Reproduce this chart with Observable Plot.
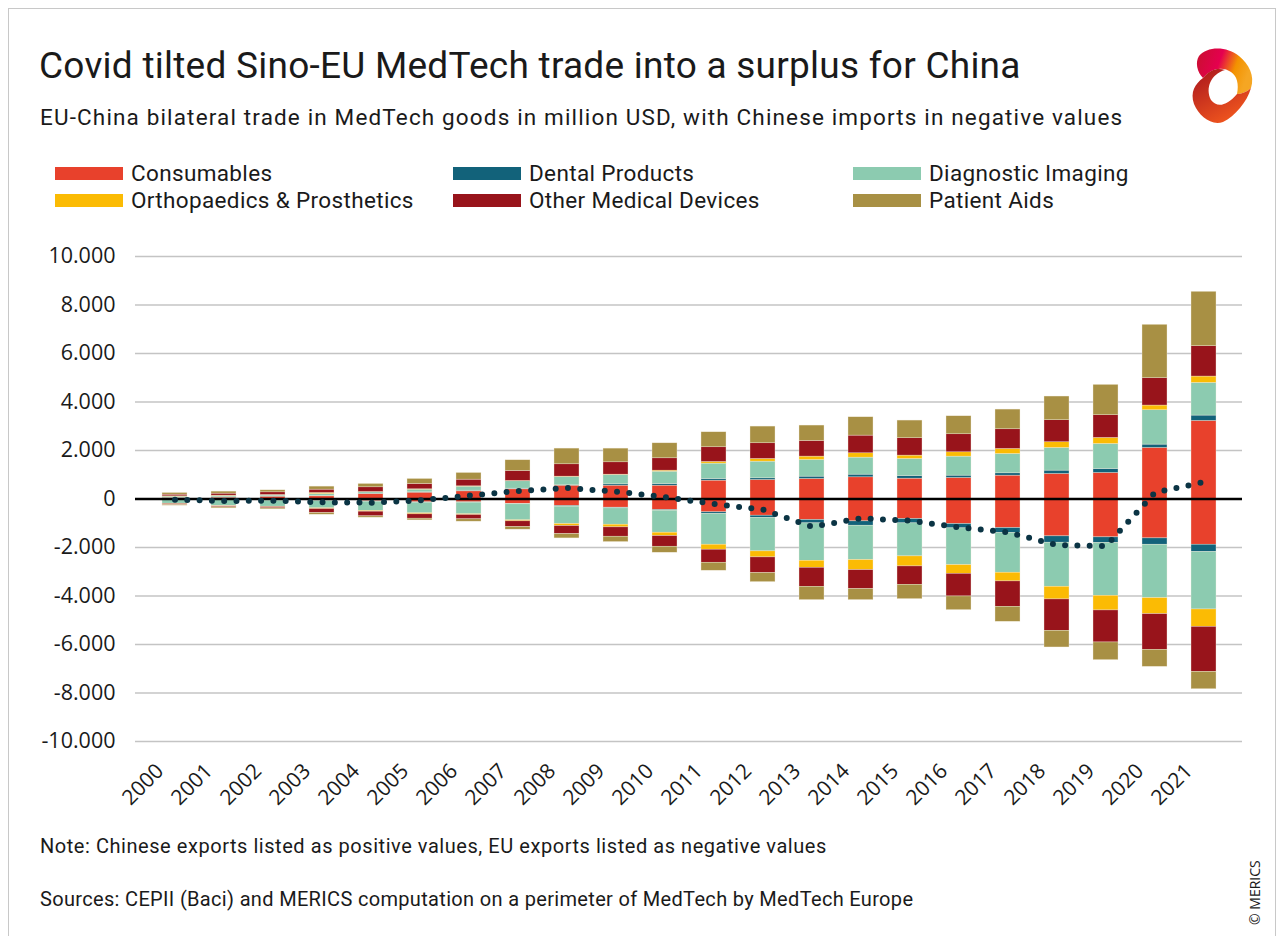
<!DOCTYPE html>
<html>
<head>
<meta charset="utf-8">
<script src="https://cdn.jsdelivr.net/npm/d3@7"></script>
<script src="https://cdn.jsdelivr.net/npm/@observablehq/plot@0.6"></script>
<style>
  html, body { margin: 0; padding: 0; background: #fff; }
  body { width: 1285px; height: 936px; position: relative; overflow: hidden; font-family: Roboto, "Open Sans", sans-serif; color: #1a1a1a; }
  .frame { position: absolute; left: 8px; top: 8px; width: 1268px; height: 960px; border: 1px solid #c8c8c8; box-sizing: border-box; }
  .title { position: absolute; left: 39px; top: 42px; font-size: 37px; letter-spacing: 0.25px; line-height: 48px; white-space: nowrap; }
  .subtitle { position: absolute; left: 40px; top: 102px; font-size: 22.5px; letter-spacing: 1.15px; line-height: 30px; white-space: nowrap; }
  .legend { position: absolute; left: 55px; top: 160px; }
  .legend .item { position: absolute; display: flex; align-items: center; white-space: nowrap; font-size: 22.5px; letter-spacing: 0.35px; line-height: 26px; }
  .legend .sw { width: 68px; height: 13px; margin-right: 8px; }
  #chart { position: absolute; left: 0; top: 230px; }
  .note { position: absolute; left: 40px; font-size: 20px; line-height: 24px; white-space: nowrap; }
  .copy { position: absolute; left: 1245px; top: 925px; transform: rotate(-90deg); transform-origin: 0 0; font-family: "Open Sans", sans-serif; font-size: 14px; white-space: nowrap; }
  .logo { position: absolute; left: 1185px; top: 44px; }
</style>
</head>
<body>
<div class="frame"></div>
<div class="title">Covid tilted Sino-EU MedTech trade into a surplus for China</div>
<div class="subtitle">EU-China bilateral trade in MedTech goods in million USD, with Chinese imports in negative values</div>
<svg class="logo" width="72" height="82" viewBox="0 0 72 82">
  <defs>
    <linearGradient id="lg1" x1="0" y1="0" x2="1" y2="0.3">
      <stop offset="0" stop-color="#c8102e"/>
      <stop offset="0.45" stop-color="#e5004f"/>
      <stop offset="0.75" stop-color="#f39200"/>
      <stop offset="1" stop-color="#f5a623"/>
    </linearGradient>
    <linearGradient id="lg2" x1="0" y1="0" x2="0.6" y2="1">
      <stop offset="0" stop-color="#a8141e"/>
      <stop offset="1" stop-color="#f0561e"/>
    </linearGradient>
  </defs>
  <path fill="url(#lg1)" d="M14 12 C22 2 42 2 54 12 C64 20 70 32 66 44 C62 48 56 50 52 50 C54 40 52 32 46 28 C38 22 26 24 18 34 C12 28 10 18 14 12 Z"/>
  <path fill="url(#lg2)" d="M18 34 C26 24 34 24 40 26 C26 30 20 44 26 56 C32 64 42 62 52 50 C56 50 62 48 66 44 C62 58 50 72 38 78 C26 82 14 72 9 60 C5 48 10 40 18 34 Z"/>
</svg>
<div class="legend" id="legend"></div>
<div id="chart"></div>
<div class="note" style="top:834px; letter-spacing:0.55px">Note: Chinese exports listed as positive values, EU exports listed as negative values</div>
<div class="note" style="top:887px; letter-spacing:0.33px">Sources: CEPII (Baci) and MERICS computation on a perimeter of MedTech by MedTech Europe</div>
<div class="copy">© MERICS</div>
<script>
// ---- Data (million USD) ----
const years = ["2000","2001","2002","2003","2004","2005","2006","2007","2008","2009","2010","2011","2012","2013","2014","2015","2016","2017","2018","2019","2020","2021"];
const categories = ["Consumables","Dental Products","Diagnostic Imaging","Orthopaedics & Prosthetics","Other Medical Devices","Patient Aids"];
const colors = ["#e8412c","#12627a","#8ccbb0","#fbbb04","#98141b","#a89044"];

// Chinese exports to EU (positive)
const consumablesCN = [41,55,96,110,206,262,316,399,550,550,550,757,784,826,894,839,867,963,1032,1073,2105,3220];
const dentalCN      = [14,14,14,14,14,14,28,28,14,55,69,69,69,96,110,110,96,96,138,165,138,220];
const diagnosticCN  = [41,55,41,83,55,110,165,303,344,385,509,633,688,688,702,702,784,798,936,1032,1417,1348];
const orthoCN       = [14,14,14,41,14,14,14,14,14,14,41,69,110,138,179,138,179,206,234,248,193,261];
const otherCN       = [69,83,110,138,193,220,275,413,509,509,509,605,647,647,729,716,743,812,908,936,1128,1252];
const patientCN     = [69,83,83,124,138,206,275,440,647,564,619,619,688,633,757,729,743,812,977,1252,2202,2243];

// EU exports to China (Chinese imports, negative)
const consumablesEU = [-14,-28,-55,-69,-96,-138,-138,-206,-289,-358,-454,-550,-688,-867,-922,-826,-1032,-1197,-1541,-1582,-1624,-1885];
const dentalEU      = [-14,-14,-14,-14,-14,-14,-14,-14,-28,-28,-28,-69,-96,-138,-179,-179,-179,-206,-261,-234,-261,-303];
const diagnosticEU  = [-165,-248,-248,-303,-385,-440,-480,-660,-716,-674,-908,-1266,-1376,-1541,-1417,-1362,-1514,-1637,-1816,-2174,-2202,-2367];
const orthoEU       = [-14,-14,-14,-28,-28,-41,-28,-41,-83,-110,-138,-206,-248,-289,-413,-413,-358,-358,-523,-605,-660,-716];
const otherEU       = [-41,-41,-55,-165,-193,-179,-179,-234,-330,-385,-440,-537,-647,-784,-784,-757,-936,-1046,-1293,-1321,-1472,-1858];
const patientEU     = [-28,-41,-41,-69,-55,-69,-96,-110,-179,-220,-248,-330,-372,-550,-454,-592,-564,-619,-688,-729,-702,-716];

const yTicks = [-10000,-8000,-6000,-4000,-2000,0,2000,4000,6000,8000,10000];
const yTickLabels = ["-10.000","-8.000","-6.000","-4.000","-2.000","0","2.000","4.000","6.000","8.000","10.000"];

// ---- Build tables ----
const seriesCN = [consumablesCN, dentalCN, diagnosticCN, orthoCN, otherCN, patientCN];
const seriesEU = [consumablesEU, dentalEU, diagnosticEU, orthoEU, otherEU, patientEU];
const rows = [];
categories.forEach((c, k) => {
  years.forEach((y, i) => {
    rows.push({year: y, category: c, value: seriesCN[k][i]});
    rows.push({year: y, category: c, value: seriesEU[k][i]});
  });
});
const balance = years.map((y, i) => ({
  year: y,
  net: d3.sum(seriesCN, s => s[i]) + d3.sum(seriesEU, s => s[i])
}));

// ---- Legend ----
const legend = document.getElementById("legend");
const colX = [0, 398, 798];
categories.forEach((c, k) => {
  const it = document.createElement("div");
  it.className = "item";
  it.style.left = colX[k % 3] + "px";
  it.style.top = (Math.floor(k / 3) * 27) + "px";
  it.innerHTML = `<span class="sw" style="background:${colors[k]}"></span><span>${c}</span>`;
  legend.appendChild(it);
});

// ---- Chart ----
const chart = Plot.plot({
  width: 1285,
  height: 581,
  marginLeft: 135,
  marginRight: 43,
  marginTop: 26,
  marginBottom: 70,
  style: {fontFamily: "'Open Sans', sans-serif", fontSize: "21px", color: "#1a1a1a", background: "transparent"},
  x: {domain: years, padding: 0.5, label: null},
  y: {domain: [-10000, 10000], label: null},
  color: {domain: categories, range: colors},
  marks: [
    Plot.gridY(yTicks, {stroke: "#c4c4c4", strokeOpacity: 1, strokeWidth: 1.6}),
    Plot.axisY(yTicks, {tickSize: 0, tickPadding: 20, fontSize: 21.5, tickFormat: d => yTickLabels[yTicks.indexOf(d)], label: null}),
    Plot.axisX({tickSize: 0, tickPadding: 16, tickRotate: -45, fontSize: 21, dx: -15, dy: 10, label: null}),
    Plot.barY(rows, {x: "year", y: "value", fill: "category", order: categories, stroke: "#f4eede", strokeOpacity: 0.7, strokeWidth: 0.5}),
    Plot.ruleY([0], {stroke: "black", strokeWidth: 2.5}),
    Plot.line(balance, {x: "year", y: "net", stroke: "#0b3444", strokeWidth: 6, strokeDasharray: "0 12.3", strokeLinecap: "round"})
  ]
});
document.getElementById("chart").appendChild(chart);
</script>
</body>
</html>
